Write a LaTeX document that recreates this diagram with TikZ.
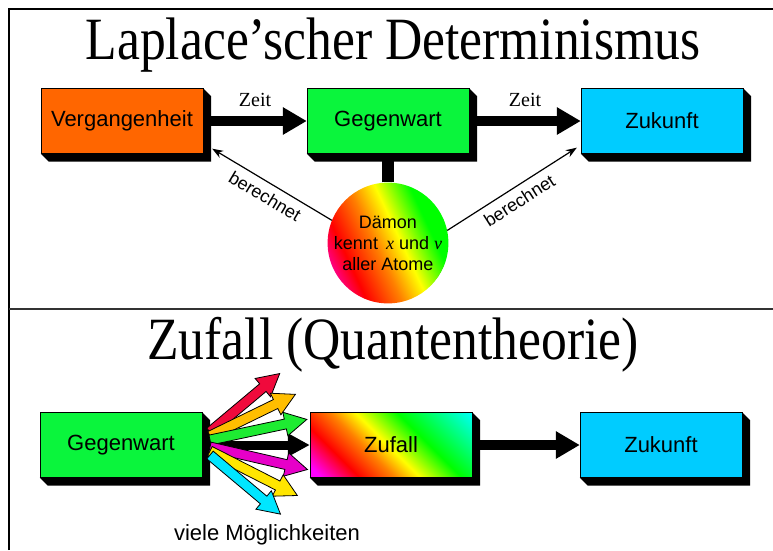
\documentclass[tikz,border=0pt]{standalone}
\usepackage{fontspec}
\setmainfont{Liberation Serif}
\setsansfont{Liberation Sans}
\newfontfamily\titlefont{Liberation Serif}[FakeStretch=0.86]
\usetikzlibrary{arrows.meta,calc}

\definecolor{vorange}{RGB}{255,102,0}
\definecolor{ggreen}{RGB}{10,245,60}
\definecolor{zcyan}{RGB}{0,204,255}
\definecolor{fred}{RGB}{240,10,60}
\definecolor{forange}{RGB}{255,190,0}
\definecolor{fgreen}{RGB}{30,235,50}
\definecolor{fmagenta}{RGB}{230,0,200}
\definecolor{fyellow}{RGB}{255,230,0}
\definecolor{fcyan}{RGB}{0,230,255}

\pgfdeclarehorizontalshading{daemonshade}{100bp}{color(0bp)=(magenta); color(18bp)=(magenta); color(32bp)=(red); color(45bp)=(orange); color(55bp)=(yellow); color(68bp)=(green); color(100bp)=(green)}
\pgfdeclarehorizontalshading{zufallshade}{100bp}{color(0bp)=(magenta); color(18bp)=(magenta); color(30bp)=(red); color(41bp)=(orange); color(49bp)=(yellow); color(62bp)=(green); color(86bp)=(cyan); color(100bp)=(cyan)}

% black 3D edge below and right of a box
\newcommand{\extrude}[1]{%
  \fill (#1.north east) -- ++(8,8) -- ($(#1.south east)+(8,8)$) -- ($(#1.south west)+(8,8)$) -- (#1.south west) -- (#1.south east) -- cycle;}

\begin{document}
\begin{tikzpicture}[x=1pt,y=-1pt,
    box/.style={draw=black, minimum width=162pt, minimum height=65pt, inner sep=0pt, font=\sffamily\fontsize{22}{24}\selectfont},
    timearrow/.style={line width=10pt, -{Triangle[length=24pt,width=26pt]}},
    calcarrow/.style={line width=1.2pt, -{Stealth[length=11pt,width=8pt]}},
    headline/.style={font=\titlefont\fontsize{60}{60}\selectfont}]
    \useasboundingbox (0,0) rectangle (773,550);

    % Frame
    \draw [line width=2pt] (9,550) -- (9,9) -- (773,9);
    \draw [line width=1.8pt, black!80] (9,309) -- (773,309);

    % Laplace
    \node [headline] (title1) at (393,45) {Laplace’scher Determinismus};

    \node [box, fill=vorange] (verg) at (122,121) {Vergangenheit};
    \node [box, fill=ggreen] (gegen) at (388,121) {Gegenwart};
    \node [box, fill=zcyan] (zuk) at (662,121) {Zukunft};
    \extrude{verg}
    \extrude{gegen}
    \extrude{zuk}

    \draw [timearrow] (verg.east) -- (gegen.west) node [midway, above=6pt, font=\fontsize{20}{20}\selectfont] {Zeit};
    \draw [timearrow] (gegen.east) -- (zuk.west) node [midway, above=6pt, font=\fontsize{20}{20}\selectfont] {Zeit};

    \coordinate (dcenter) at (388,243);
    \fill ([shift={(7,4)}]dcenter) circle (52);
    \node [circle, minimum size=104pt, inner sep=0pt, shade, shading=daemonshade, shading angle=25, align=center,
      font=\sffamily\fontsize{18}{21}\selectfont] (daemon) at (dcenter) {Dämon\\kennt \,{\rmfamily\itshape x} und {\rmfamily\itshape v}\\aller Atome};
    \draw [line width=12pt] (daemon.north) -- (daemon.north |- gegen.south);

    \draw [calcarrow] (daemon.158) -- ([xshift=9pt,yshift=5pt]verg.south east)
      node [midway, sloped, below=3pt, font=\sffamily\fontsize{18}{20}\selectfont] {berechnet};
    \draw [calcarrow] (daemon.12) -- ([xshift=-4pt,yshift=6pt]zuk.south west)
      node [midway, sloped, below=3pt, font=\sffamily\fontsize{18}{20}\selectfont] {berechnet};

    % Zufall
    \node [headline] (title2) at (393,345) {Zufall (Quantentheorie)};

    \node [box, fill=ggreen] (gegen2) at (121,445) {Gegenwart};
    \node [box, shade, shading=zufallshade, shading angle=45] (zufall) at (391,445) {Zufall};
    \node [box, fill=zcyan] (zuk2) at (661,445) {Zukunft};
    \extrude{gegen2}
    \extrude{zufall}
    \extrude{zuk2}

    \draw [timearrow] (zufall.east) -- (zuk2.west);

    \coordinate (fan) at (210,443);
    \draw [line width=9pt, -{Triangle[length=22pt,width=22pt]}] (gegen2.east) -- (zufall.west);
    \foreach \ang/\len/\dy/\col in {40/91/-11/fred, 26/95/-7/forange, 12/99/-3/fgreen, -13/100/4/fmagenta, -27/98/8/fyellow, -40/92/12/fcyan}
    {
        \begin{scope}[shift={(fan)}, shift={(0,\dy)}, rotate=\ang]
            \draw [fill=\col, line width=0.8pt, line join=miter] (0,-5) -- (\len-22,-5) -- (\len-22,-12) -- (\len,0)
              -- (\len-22,12) -- (\len-22,5) -- (0,5) -- cycle;
        \end{scope}
    }
    \node [font=\sffamily\fontsize{22}{24}\selectfont] (moeglich) at (267,535) {viele Möglichkeiten};
\end{tikzpicture}
\end{document}
